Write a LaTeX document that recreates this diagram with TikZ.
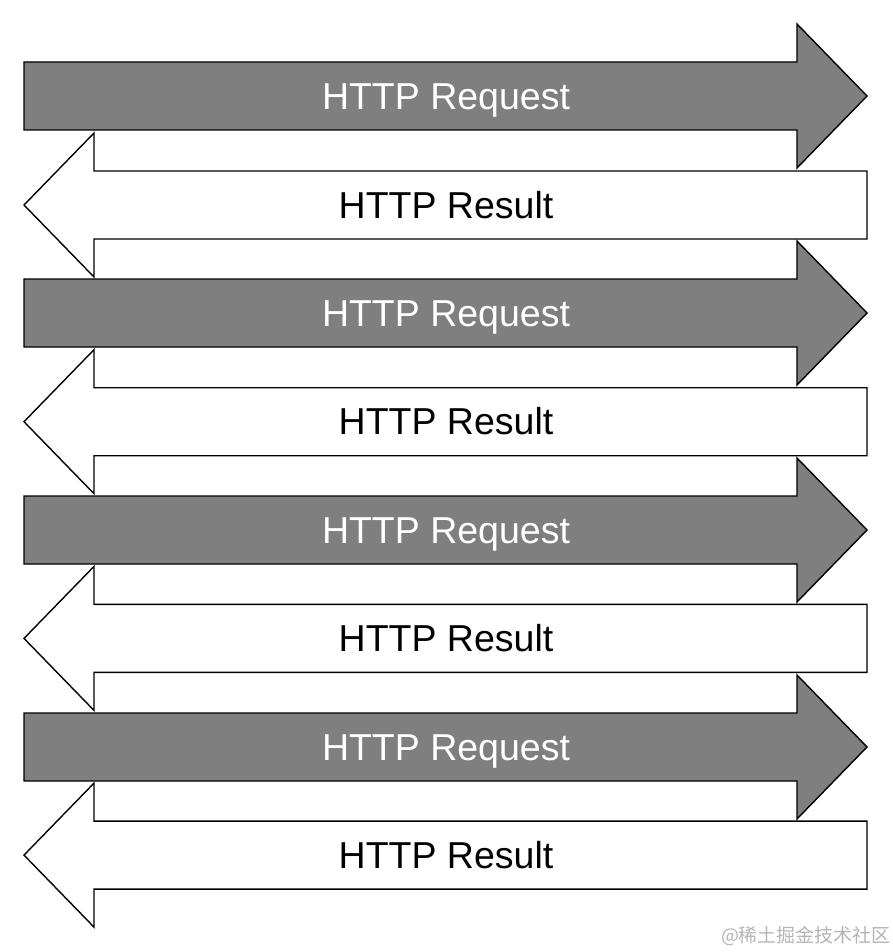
\documentclass[tikz,border=0pt]{standalone}
\usepackage{fontspec}
\setmainfont{Liberation Sans}
\newfontfamily\cjk{Noto Sans CJK SC}
\definecolor{reqgray}{HTML}{7F7F7F}
\definecolor{wmgray}{HTML}{B4B4B4}
\begin{document}
\begin{tikzpicture}[x=1pt,y=-1pt,
  req/.style={draw=black,line width=1.4pt,fill=reqgray,line join=miter},
  res/.style={draw=black,line width=1.4pt,fill=white,line join=miter},
  reqtext/.style={text=white,font=\fontsize{37.5}{40}\selectfont,inner sep=0pt,anchor=base},
  restext/.style={text=black,font=\fontsize{37.5}{40}\selectfont,inner sep=0pt,anchor=base}]
\useasboundingbox (0,0) rectangle (892,952);
\foreach \i in {0,...,3} {
  \pgfmathsetmacro\yq{96+217*\i}
  \pgfmathsetmacro\yr{205+216.7*\i}
  \draw[req] (24,\yq-34) -- (797,\yq-34) -- (797,\yq-72) -- (867,\yq) -- (797,\yq+72) -- (797,\yq+34) -- (24,\yq+34) -- cycle;
  \node[reqtext] (req\i) at (446,\yq+13.5) {HTTP Request};
  \draw[res] (867,\yr-34) -- (94,\yr-34) -- (94,\yr-72) -- (24,\yr) -- (94,\yr+72) -- (94,\yr+34) -- (867,\yr+34) -- cycle;
  \node[restext] (res\i) at (446,\yr+13) {HTTP Result};
}
\node[text=wmgray,font=\cjk\fontsize{19}{22}\selectfont,inner sep=0pt] (wm) at (806,936) {@稀土掘金技术社区};
\end{tikzpicture}
\end{document}
